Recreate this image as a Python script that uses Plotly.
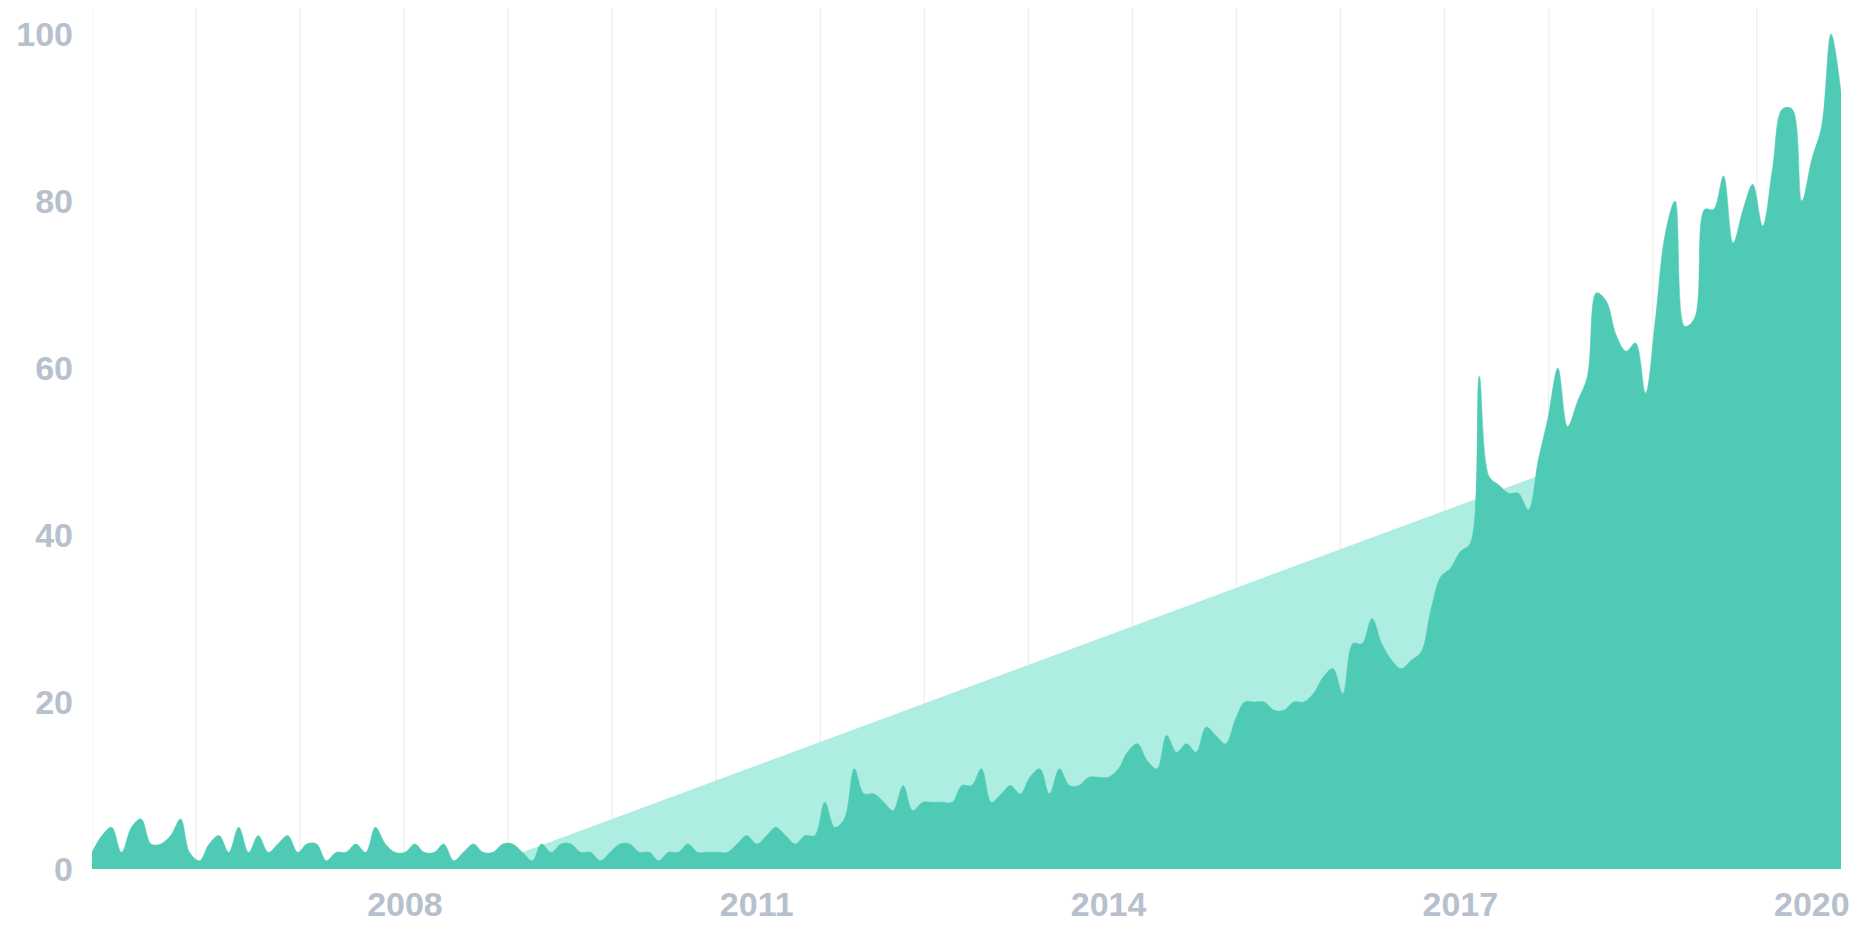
import pandas as pd
import plotly.graph_objects as go


# monthly interest, May 2005 .. Apr 2020
first_month = "2005-05-01"
interest = [
    2, 4, 5, 2, 5, 6, 3, 3, 4, 6, 2, 1,
    3, 4, 2, 5, 2, 4, 2, 3, 4, 2, 3, 3,
    1, 2, 2, 3, 2, 5, 3, 2, 2, 3, 2, 2,
    3, 1, 2, 3, 2, 2, 3, 3, 2, 1, 3, 2,
    3, 3, 2, 2, 1, 2, 3, 3, 2, 2, 1, 2,
    2, 3, 2, 2, 2, 2, 3, 4, 3, 4, 5, 4,
    3, 4, 4, 8, 5, 6, 12, 9, 9, 8, 7, 10,
    7, 8, 8, 8, 8, 10, 10, 12, 8, 9, 10, 9,
    11, 12, 9, 12, 10, 10, 11, 11, 11, 12, 14, 15,
    13, 12, 16, 14, 15, 14, 17, 16, 15, 18, 20, 20,
    20, 19, 19, 20, 20, 21, 23, 24, 21, 27, 27, 30,
    27, 25, 24, 25, 26, 31, 35, 36, 38, 39, 59, 47,
    46, 45, 45, 43, 49, 54, 60, 53, 56, 59, 69, 68,
    64, 62, 63, 57, 66, 76, 80, 65, 66, 79, 79, 83,
    75, 79, 82, 77, 84, 91, 91, 80, 85, 89, 100, 93,
]

# straight trend line
trend_dates = ["2009-01-01", "2020-04-01"]
trend_values = [2.0, 60.5]

tick_years = [2008, 2011, 2014, 2017, 2020]
y_ticks = [0, 20, 40, 60, 80, 100]


def main():

    months = pd.date_range(first_month, periods=len(interest), freq="MS")

    fig = go.Figure()

    # vertical guide lines, evenly spaced (about every 324 days),
    # running up past the plot top to the edge of the page
    grid_step = (months[-1] - months[0]) / 16.81
    for k in range(17):
        fig.add_shape(
            type="line",
            xref="x",
            yref="paper",
            x0=months[0] + grid_step * k,
            x1=months[0] + grid_step * k,
            y0=0,
            y1=1.06,
            line=dict(color="#f0f0f0", width=1.5),
            layer="below"
        )

    # Trend
    fig.add_trace(
        go.Scatter(
            x=pd.to_datetime(trend_dates),
            y=trend_values,
            mode="lines",
            line=dict(color="#aeede1", width=0),
            fill="tozeroy",
            fillcolor="#aeede1",
            hoverinfo="skip"
        )
    )

    # Interest over time
    fig.add_trace(
        go.Scatter(
            x=months,
            y=interest,
            mode="lines",
            line=dict(color="#4fcbb5", width=0.5, shape="spline", smoothing=1.0),
            fill="tozeroy",
            fillcolor="#4fcbb5"
        )
    )

    tick_font = dict(
        family="Liberation Sans, Arial, sans-serif",
        size=34,
        color="#b6c1cd",
        weight=700
    )

    # the page adds an 8px body margin, so margins are 8px smaller
    fig.update_layout(
        width=1864,
        height=932,
        margin=dict(l=84, r=31, t=26, b=71),
        paper_bgcolor="white",
        plot_bgcolor="white",
        showlegend=False,
        xaxis=dict(
            type="date",
            range=[months[0], months[-1]],
            automargin=False,
            tickmode="array",
            tickvals=[pd.Timestamp(f"{y}-01-01") for y in tick_years],
            ticktext=[str(y) for y in tick_years],
            showgrid=False,
            zeroline=False,
            showline=False,
            ticks="",
            ticklabelstandoff=12,
            tickfont=tick_font
        ),
        yaxis=dict(
            range=[0, 100],
            automargin=False,
            tickmode="array",
            tickvals=y_ticks,
            showgrid=False,
            zeroline=False,
            showline=False,
            ticks="",
            ticklabelstandoff=18,
            tickfont=tick_font
        )
    )

    fig.write_html("out.html")


if __name__ == "__main__":
    main()
